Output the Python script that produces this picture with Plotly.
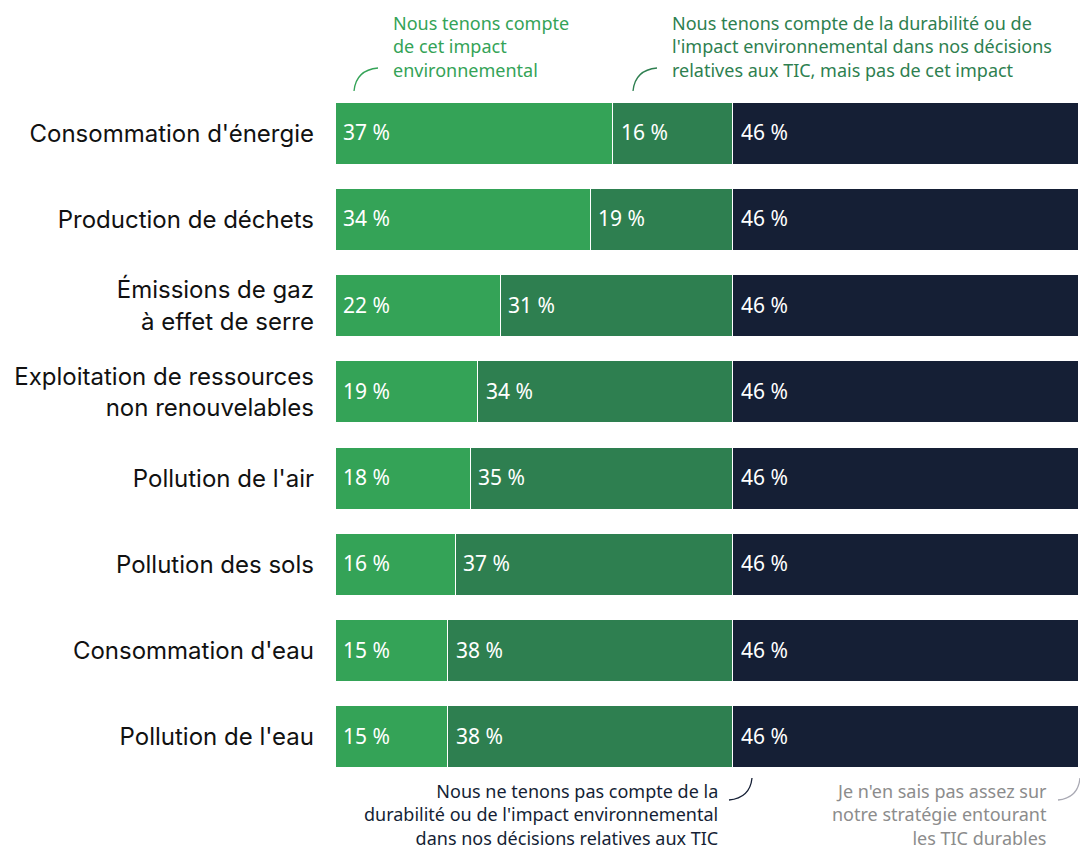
import plotly.graph_objects as go

# Survey responses per environmental impact (percent of respondents)
categories = [
    "Consommation d'énergie",
    "Production de déchets",
    "Émissions de gaz<br>à effet de serre",
    "Exploitation de ressources<br>non renouvelables",
    "Pollution de l'air",
    "Pollution des sols",
    "Consommation d'eau",
    "Pollution de l'eau",
]
considered_impact = [37, 34, 22, 19, 18, 16, 15, 15]
considered_other = [16, 19, 31, 34, 35, 37, 38, 38]
not_considered = [46, 46, 46, 46, 46, 46, 46, 46]
dont_know = [1, 1, 1, 1, 1, 1, 1, 1]

series = [
    ("Nous tenons compte de cet impact environnemental", considered_impact, "#34a357"),
    ("Nous tenons compte de la durabilité, mais pas de cet impact", considered_other, "#2e7f50"),
    ("Nous ne tenons pas compte de la durabilité", not_considered, "#151f35"),
    ("Je n'en sais pas assez", dont_know, "#a9a9b3"),
]

W, H = 1080, 852
ML, MR, MT, MB = 335, 1, 90, 72
PW, PH = W - ML - MR, H - MT - MB


def px(x):
    return (x - ML) / PW


def py(y):
    return (H - MB - y) / PH


fig = go.Figure()
for name, vals, color in series:
    fig.add_trace(go.Bar(
        y=categories, x=vals, name=name, orientation="h",
        marker=dict(color=color, line=dict(color="white", width=1)),
        hoverinfo="x+name",
    ))

annotations = []
# Percent labels placed at the start of each visible segment
for vals_i, vals in enumerate([considered_impact, considered_other, not_considered]):
    for ci, cat in enumerate(categories):
        base = sum(s[1][ci] for s in series[:vals_i])
        annotations.append(dict(
            x=base, y=cat, xref="x", yref="y", text=f"{vals[ci]} %",
            showarrow=False, xanchor="left", xshift=6, yshift=1,
            font=dict(family="Noto Sans", size=21, color="white"),
        ))

# Callout paragraphs around the bars
callout_font = "Noto Sans"
callouts = [
    (392, 10, "left", "top",
     ["Nous tenons compte", "de cet impact", "environnemental"], "#34a357"),
    (671, 10, "left", "top",
     ["Nous tenons compte de la durabilité ou de",
      "l'impact environnemental dans nos décisions",
      "relatives aux TIC, mais pas de cet impact"], "#2e7f50"),
    (719, 851, "right", "bottom",
     ["Nous ne tenons pas compte de la",
      "durabilité ou de l'impact environnemental",
      "dans nos décisions relatives aux TIC"], "#151f35"),
    (1048, 851, "right", "bottom",
     ["Je n'en sais pas assez sur",
      "notre stratégie entourant",
      "les TIC durables"], "#8c8c8c"),
]
for x, y, xanchor, yanchor, lines, color in callouts:
    annotations.append(dict(
        x=px(x), y=py(y), xref="paper", yref="paper", xanchor=xanchor,
        yanchor=yanchor, align=xanchor, showarrow=False, borderpad=0,
        text="<br>".join(lines),
        font=dict(family=callout_font, size=18, color=color),
    ))


def arc(x0, y0, cx, cy, x1, y1, color):
    return dict(
        type="path", xref="paper", yref="paper",
        path=f"M {px(x0)},{py(y0)} Q {px(cx)},{py(cy)} {px(x1)},{py(y1)}",
        line=dict(color=color, width=1.3),
    )


shapes = [
    arc(354, 91, 356, 70, 378, 68, "#34a357"),
    arc(633, 91, 635, 70, 657, 68, "#2e7f50"),
    arc(729, 800, 750, 798, 752, 778, "#151f35"),
    arc(1058, 800, 1078, 798, 1080, 778, "#a9a9b3"),
]

fig.update_layout(
    width=W, height=H,
    margin=dict(l=ML, r=MR, t=MT, b=MB),
    barmode="stack", bargap=0.28,
    showlegend=False,
    plot_bgcolor="white", paper_bgcolor="white",
    xaxis=dict(range=[0, 99.1], visible=False, fixedrange=True),
    yaxis=dict(autorange="reversed", showgrid=False, zeroline=False, showline=False,
               ticks="", ticklabelstandoff=20,
               tickfont=dict(family="Inter", size=24, color="#111111")),
    annotations=annotations,
    shapes=shapes,
)

fig.write_html("out.html")
